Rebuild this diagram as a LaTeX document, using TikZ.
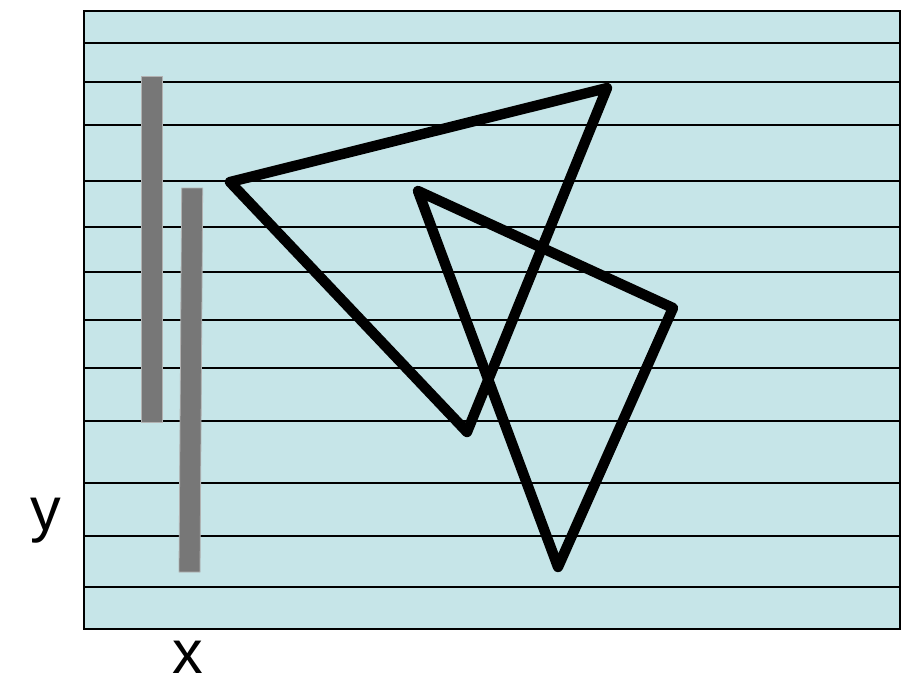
\documentclass[tikz,border=0pt]{standalone}
\usepackage{fontspec}
\setmainfont{Liberation Sans}
\definecolor{bgblue}{HTML}{C6E5E8}
\definecolor{bargray}{HTML}{777777}
\begin{document}
\begin{tikzpicture}[x=0.75pt,y=-0.75pt,
  hline/.style={draw=black,line width=1.4pt},
  bar/.style={fill=bargray,draw=gray!60,line width=0.6pt},
  tri/.style={draw=black,line width=7.8pt,line join=round,line cap=round},
  lbl/.style={font=\fontsize{46}{50}\selectfont,inner sep=0pt,anchor=base}]
\useasboundingbox (0,0) rectangle (913,678);
% background
\filldraw[fill=bgblue,draw=black,line width=1.5pt] (84,11) rectangle (900,629);
% horizontal lines
\foreach \yy in {43,82,125,181,227,272,320,368,421,483,536,587}
  \draw[hline] (84,\yy) -- (900,\yy);
% gray bars
\draw[bar] (141.5,76) rectangle (162.5,422);
\draw[bar] (181.7,188) -- (202.7,188) -- (200,572) -- (179,572) -- cycle;
% triangles
\coordinate (a1) at (230,182);
\coordinate (a2) at (607,88);
\coordinate (a3) at (467,432);
\coordinate (b1) at (418,191);
\coordinate (b2) at (673,308);
\coordinate (b3) at (558,567);
\draw[tri] (a1) -- (a2) -- (a3) -- cycle;
\draw[tri] (b1) -- (b2) -- (b3) -- cycle;
% labels
\node[lbl] (ylab) at (46,530) {y};
\node[lbl] (xlab) at (188,673) {x};
\end{tikzpicture}
\end{document}
